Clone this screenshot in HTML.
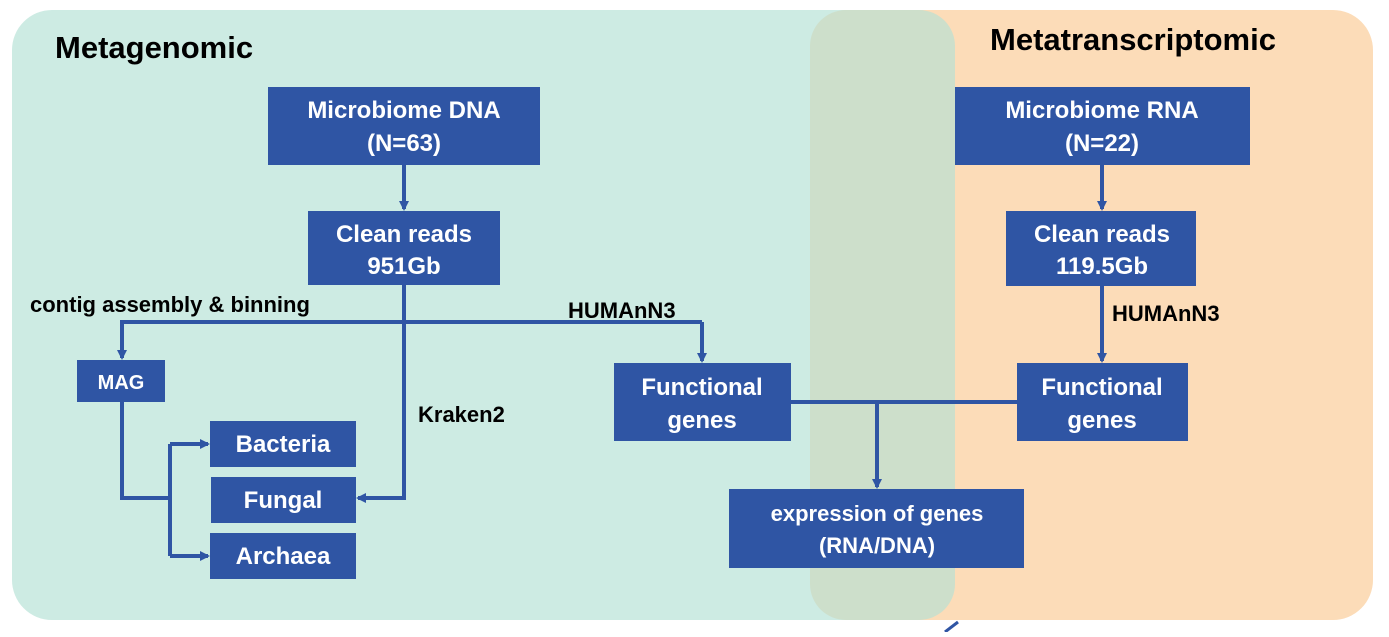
<!DOCTYPE html>
<html><head><meta charset="utf-8"><style>
html,body{margin:0;padding:0;background:#fff;}
svg text{font-family:"Liberation Sans",sans-serif;font-weight:bold;}
</style></head><body>
<svg width="1389" height="632" viewBox="0 0 1389 632" xmlns="http://www.w3.org/2000/svg">
<defs>
<marker id="a" markerWidth="10" markerHeight="10" refX="8" refY="5" orient="auto" markerUnits="userSpaceOnUse">
<path d="M0,0 L10,5 L0,10 Z" fill="#2f55a4"/></marker>
</defs>
<rect x="12" y="10" width="960" height="610" rx="40" fill="#cdebe3"/>
<rect x="810" y="10" width="563" height="610" rx="40" fill="#fcdcb8"/>
<rect x="810" y="10" width="145" height="610" rx="36" fill="#cddfcb"/>
<path d="M945,632 L958,622" stroke="#2f55a4" stroke-width="3"/>
<text x="55" y="58" font-size="31" fill="#000">Metagenomic</text>
<text x="990" y="50" font-size="31" fill="#000">Metatranscriptomic</text>
<g fill="#2f55a4">
<rect x="268" y="87" width="272" height="78"/>
<rect x="308" y="211" width="192" height="74"/>
<rect x="77" y="360" width="88" height="42"/>
<rect x="210" y="421" width="146" height="46"/>
<rect x="211" y="477" width="145" height="46"/>
<rect x="210" y="533" width="146" height="46"/>
<rect x="614" y="363" width="177" height="78"/>
<rect x="955" y="87" width="295" height="78"/>
<rect x="1006" y="211" width="190" height="75"/>
<rect x="1017" y="363" width="171" height="78"/>
<rect x="729" y="489" width="295" height="79"/>
</g>
<g fill="none" stroke="#2f55a4" stroke-width="4">
<path d="M404,165 V209" marker-end="url(#a)"/>
<path d="M404,285 V498 H358" marker-end="url(#a)"/>
<path d="M702,322 H122 V358" marker-end="url(#a)"/>
<path d="M702,322 V361" marker-end="url(#a)"/>
<path d="M122,402 V498 H170"/>
<path d="M170,444 V556"/>
<path d="M170,444 H208" marker-end="url(#a)"/>
<path d="M170,556 H208" marker-end="url(#a)"/>
<path d="M791,402 H1017"/>
<path d="M877,402 V487" marker-end="url(#a)"/>
<path d="M1102,165 V209" marker-end="url(#a)"/>
<path d="M1102,286 V361" marker-end="url(#a)"/>
</g>
<g fill="#fff" font-size="24" text-anchor="middle">
<text x="404" y="118">Microbiome DNA</text>
<text x="404" y="151">(N=63)</text>
<text x="404" y="242">Clean reads</text>
<text x="404" y="274">951Gb</text>
<text x="121" y="389" font-size="20">MAG</text>
<text x="283" y="452">Bacteria</text>
<text x="283" y="508">Fungal</text>
<text x="283" y="564">Archaea</text>
<text x="702" y="395">Functional</text>
<text x="702" y="428">genes</text>
<text x="1102" y="118">Microbiome RNA</text>
<text x="1102" y="151">(N=22)</text>
<text x="1102" y="242">Clean reads</text>
<text x="1102" y="274">119.5Gb</text>
<text x="1102" y="395">Functional</text>
<text x="1102" y="428">genes</text>
<text x="877" y="521" font-size="22">expression of genes</text>
<text x="877" y="553" font-size="22">(RNA/DNA)</text>
</g>
<g fill="#000" font-size="22">
<text x="30" y="312">contig assembly &amp; binning</text>
<text x="568" y="318">HUMAnN3</text>
<text x="418" y="422">Kraken2</text>
<text x="1112" y="321">HUMAnN3</text>
</g>
</svg>
</body></html>
